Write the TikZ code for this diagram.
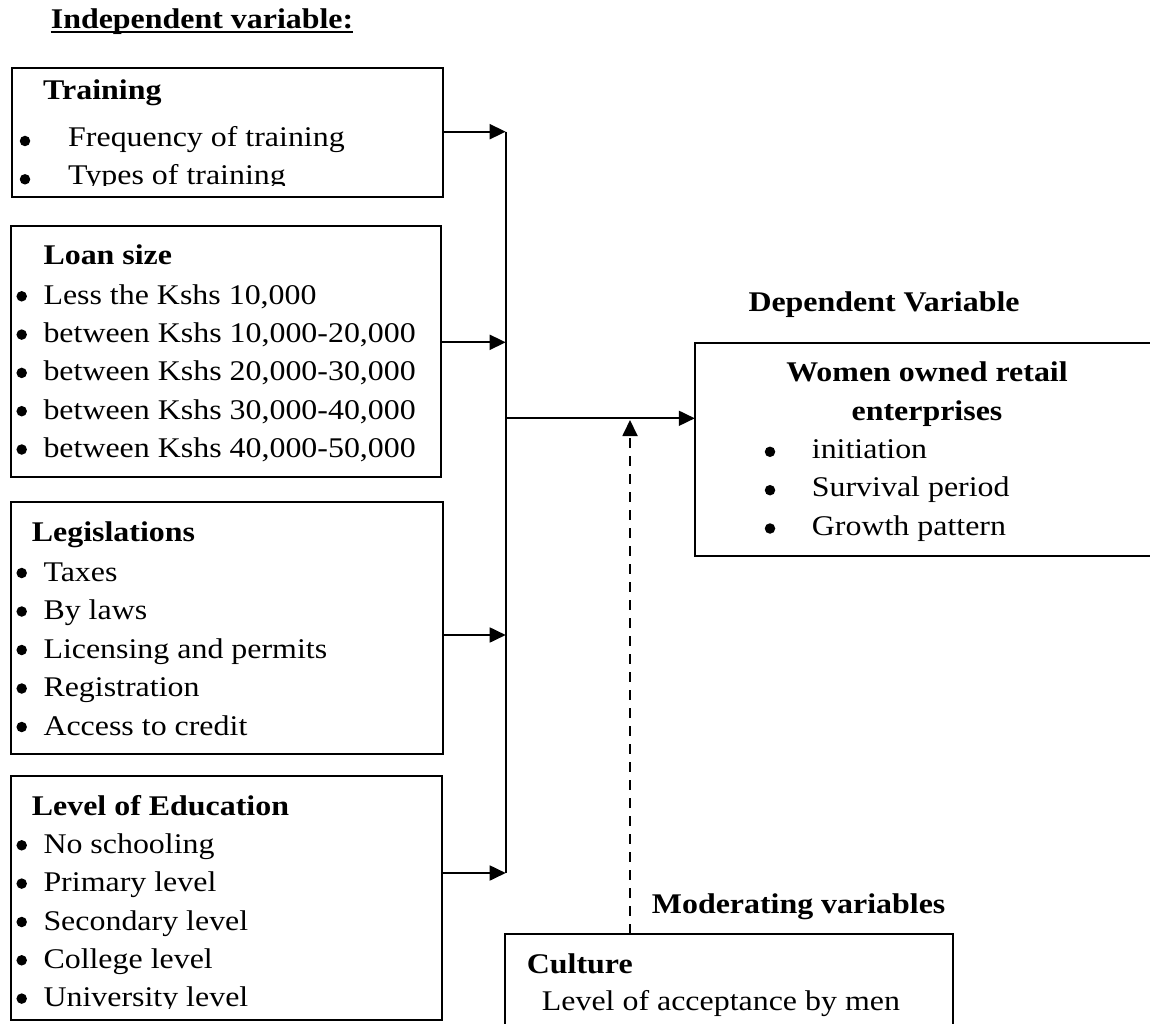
\documentclass[tikz,border=0pt]{standalone}
\usepackage{fontspec}
\setmainfont{Liberation Serif}[FakeStretch=1.12]
\usetikzlibrary{arrows.meta,fit}
\tikzset{
  txt/.style={anchor=base west, inner sep=0pt, font=\fontsize{28.5}{38}\selectfont},
  hd/.style={txt, font=\fontsize{28.5}{38}\selectfont\bfseries},
  dot/.style={circle, fill, inner sep=0pt, minimum size=10.5pt},
  box/.style={draw, line width=1.8pt, inner sep=0pt},
  arr/.style={line width=1.8pt, -{Triangle[length=16pt,width=15pt]}},
  bus/.style={line width=1.6pt},
  dasharr/.style={line width=1.8pt, dash pattern=on 10pt off 8pt, -{Triangle[length=16pt,width=15pt]}}
}
\begin{document}
\begin{tikzpicture}[x=1pt,y=-1pt]
\useasboundingbox (0,0) rectangle (1150,1024);
% title
\node[hd] (title) at (50.7,28.3) {Independent variable:};
\draw[line width=1.6pt] ([yshift=-4pt]title.base west) -- ([yshift=-4pt]title.base east);

% Training box
\node[box, fit={(12,68) (442.7,197)}] (train) {};
\node[hd] (trh) at (43,100) {Training};
\node[dot] (tr1b) at (25,141) {};
\node[txt] (tr1) at (68,146.7) {Frequency of training};
\begin{scope}
\clip (12,60) rectangle (442,186);
\node[dot] (tr2b) at (25,179.3) {};
\node[txt] (tr2) at (68,185) {Types of training};
\end{scope}

% Loan box
\node[box, fit={(11,225.7) (440.7,476.7)}] (loan) {};
\node[hd] (loh) at (43.3,265) {Loan size};
\foreach \y/\t [count=\i] in {304.3/Less the Kshs 10\rlap{,}\phantom{,}000, 342.6/between Kshs 10\rlap{,}\phantom{,}000-20\rlap{,}\phantom{,}000, 380.9/between Kshs 20\rlap{,}\phantom{,}000-30\rlap{,}\phantom{,}000, 419.2/between Kshs 30\rlap{,}\phantom{,}000-40\rlap{,}\phantom{,}000, 457.5/between Kshs 40\rlap{,}\phantom{,}000-50\rlap{,}\phantom{,}000}{
  \node[dot] (lo\i b) at (21.7,\y-8) {};
  \node[txt] (lo\i) at (43.3,\y) {\t};
}

% Legislations box
\node[box, fit={(11,502.3) (443.3,754)}] (legis) {};
\node[hd] (leh) at (31.7,541.7) {Legislations};
\foreach \y/\t [count=\i] in {581/Taxes, 619.5/By laws, 658/Licensing and permits, 696.5/Registration, 735/Access to credit}{
  \node[dot] (le\i b) at (21.7,\y-8) {};
  \node[txt] (le\i) at (43.3,\y) {\t};
}

% Education box
\node[box, fit={(11,775.7) (441.7,1020)}] (edu) {};
\node[hd] (edh) at (31.7,815) {Level of Education};
\foreach \y/\t [count=\i] in {853.3/No schooling, 891.6/Primary level, 930/Secondary level, 968.3/College level}{
  \node[dot] (ed\i b) at (21.7,\y-8) {};
  \node[txt] (ed\i) at (43.3,\y) {\t};
}
\begin{scope}
\clip (11,980) rectangle (441,1008.5);
\node[dot] (ed5b) at (21.7,998.6) {};
\node[txt] (ed5) at (43.3,1006.6) {University level};
\end{scope}

% bus and arrows
\coordinate (j1) at (505.7,131.7);
\coordinate (j2) at (505.7,342.3);
\coordinate (jm) at (505.7,418.3);
\coordinate (j3) at (505.7,635);
\coordinate (j4) at (505.7,873);
\draw[bus] (j1) -- (j4);
\draw[arr] (train.east |- j1) -- (j1);
\draw[arr] (loan.east |- j2) -- (j2);
\draw[arr] (legis.east |- j3) -- (j3);
\draw[arr] (edu.east |- j4) -- (j4);

% Dependent
\node[hd] (deph) at (748.3,311.7) {Dependent Variable};
\node[inner sep=0pt, fit={(695,343) (1152,555.7)}] (dep) {};
\draw[line width=1.8pt] (dep.north east) -- (dep.north west) -- (dep.south west) -- (dep.south east);
\node[hd, anchor=base] (dt1) at (927,381.7) {Women owned retail};
\node[hd, anchor=base] (dt2) at (927,420) {enterprises};
\foreach \y/\t [count=\i] in {458.3/initiation, 496.7/Survival period, 535/Growth pattern}{
  \node[dot] (de\i b) at (770,\y-6.5) {};
  \node[txt] (de\i) at (811.7,\y) {\t};
}
\draw[arr] (jm) -- (dep.west |- jm);

% Moderating
\node[hd] (modh) at (651.7,913.3) {Moderating variables};
\node[inner sep=0pt, fit={(505,934) (952.7,1030)}] (cult) {};
\draw[line width=1.8pt] (cult.south west) -- (cult.north west) -- (cult.north east) -- (cult.south east);
\node[hd] (cuh) at (526.7,973.3) {Culture};
\node[txt] (cu1) at (541.7,1010) {Level of acceptance by men};
\coordinate (modtip) at (630,420);
\draw[dasharr] (modtip |- cult.north) -- (modtip);
\end{tikzpicture}
\end{document}
